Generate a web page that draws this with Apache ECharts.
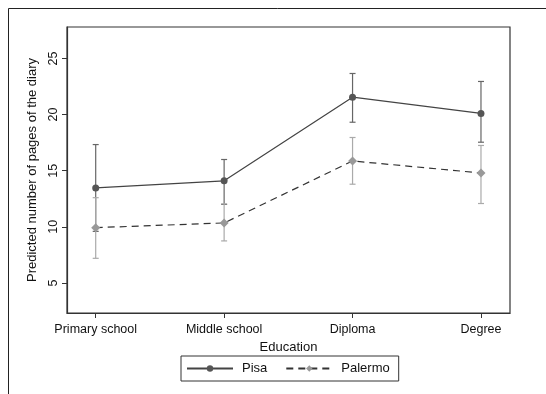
<!DOCTYPE html>
<html><head><meta charset="utf-8">
<script src="https://cdn.jsdelivr.net/npm/echarts@6/dist/echarts.min.js"></script>
<style>html,body{margin:0;padding:0;background:#fff}#c{width:546px;height:394px}</style>
</head><body><div id="c"></div>
<script>
var categories = ['Primary school','Middle school','Diploma','Degree'];
var pisaMean = [13.47, 14.1, 21.55, 20.1];
var pisaLow = [9.6, 12.0, 19.32, 17.54];
var pisaHigh = [17.33, 16.0, 23.66, 22.95];
var palermoMean = [9.93, 10.35, 15.87, 14.8];
var palermoLow = [7.2, 8.75, 13.8, 12.08];
var palermoHigh = [12.6, 12.05, 17.96, 17.25];
var yTicks = [5, 10, 15, 20, 25];
var xTicks = [0, 1, 2, 3];

var font = '"Liberation Sans", Arial, sans-serif';
function pts(arr){ return arr.map(function(v,i){ return [i, v]; }); }
function errData(lo, hi){ return lo.map(function(v,i){ return [i, v, hi[i]]; }); }
function errRender(color){
  return function(params, api){
    var x = api.value(0);
    var a = api.coord([x, api.value(1)]);
    var b = api.coord([x, api.value(2)]);
    var w = 3;
    var st = {stroke: color, lineWidth: 1.2};
    return {type:'group', children:[
      {type:'line', shape:{x1:a[0],y1:a[1],x2:b[0],y2:b[1]}, style:st},
      {type:'line', shape:{x1:a[0]-w,y1:a[1],x2:a[0]+w,y2:a[1]}, style:st},
      {type:'line', shape:{x1:b[0]-w,y1:b[1],x2:b[0]+w,y2:b[1]}, style:st}
    ]};
  };
}
var chart = echarts.init(document.getElementById('c'), null, {renderer:'canvas'});
chart.setOption({
  animation:false,
  backgroundColor:'#fff',
  textStyle:{fontFamily:font},
  graphic:[{type:'rect', shape:{x:8.5,y:8.5,width:600,height:600}, style:{fill:'none', stroke:'#222', lineWidth:1}, silent:true}],
  grid:{left:67, top:27, right:36, bottom:81, show:true, borderColor:'#333', borderWidth:1.2},
  legend:{
    left:181, top:356,
    orient:'horizontal', itemWidth:46, itemHeight:8, itemGap:18,
    padding:[6,9,6,5], borderColor:'#333', borderWidth:1,
    textStyle:{fontFamily:font, fontSize:13, color:'#111', padding:[0,0,0,4]},
    data:['Pisa','Palermo']
  },
  xAxis:{
    type:'value', min:-0.2235, max:3.226,
    name:'Education', nameLocation:'middle', nameGap:26,
    nameTextStyle:{fontFamily:font, fontSize:13, color:'#111'},
    axisLine:{show:true, onZero:false, lineStyle:{color:'#333', width:1.2}}, splitLine:{show:false},
    axisTick:{show:true, length:5, customValues:xTicks, lineStyle:{color:'#333'}},
    axisLabel:{customValues:xTicks, margin:10, fontSize:12.5, color:'#111', fontFamily:font,
      formatter:function(v){ return categories[Math.round(v)] || ''; }}
  },
  yAxis:{
    type:'value', min:2.33, max:27.8,
    name:'Predicted number of pages of the diary', nameLocation:'middle', nameGap:28,
    nameTextStyle:{fontFamily:font, fontSize:13, color:'#111'},
    axisLine:{show:true, onZero:false, lineStyle:{color:'#333', width:1.2}}, splitLine:{show:false},
    axisTick:{show:true, length:5, customValues:yTicks, lineStyle:{color:'#333'}},
    axisLabel:{customValues:yTicks, rotate:90, margin:7, fontSize:12.5, color:'#111', fontFamily:font}
  },
  series:[
    {type:'custom', name:'PisaCI', data:errData(pisaLow,pisaHigh), renderItem:errRender('#666'), z:1, silent:true},
    {type:'custom', name:'PalermoCI', data:errData(palermoLow,palermoHigh), renderItem:errRender('#aaa'), z:1, silent:true},
    {type:'line', name:'Pisa', data:pts(pisaMean), symbol:'circle', symbolSize:7,
      lineStyle:{color:'#444', width:1.2, type:'solid'}, itemStyle:{color:'#555'}, z:3},
    {type:'line', name:'Palermo', data:pts(palermoMean), symbol:'diamond', symbolSize:9,
      lineStyle:{color:'#333', width:1.2, type:[7,5]}, itemStyle:{color:'#999'}, z:2}
  ]
});
</script></body></html>
